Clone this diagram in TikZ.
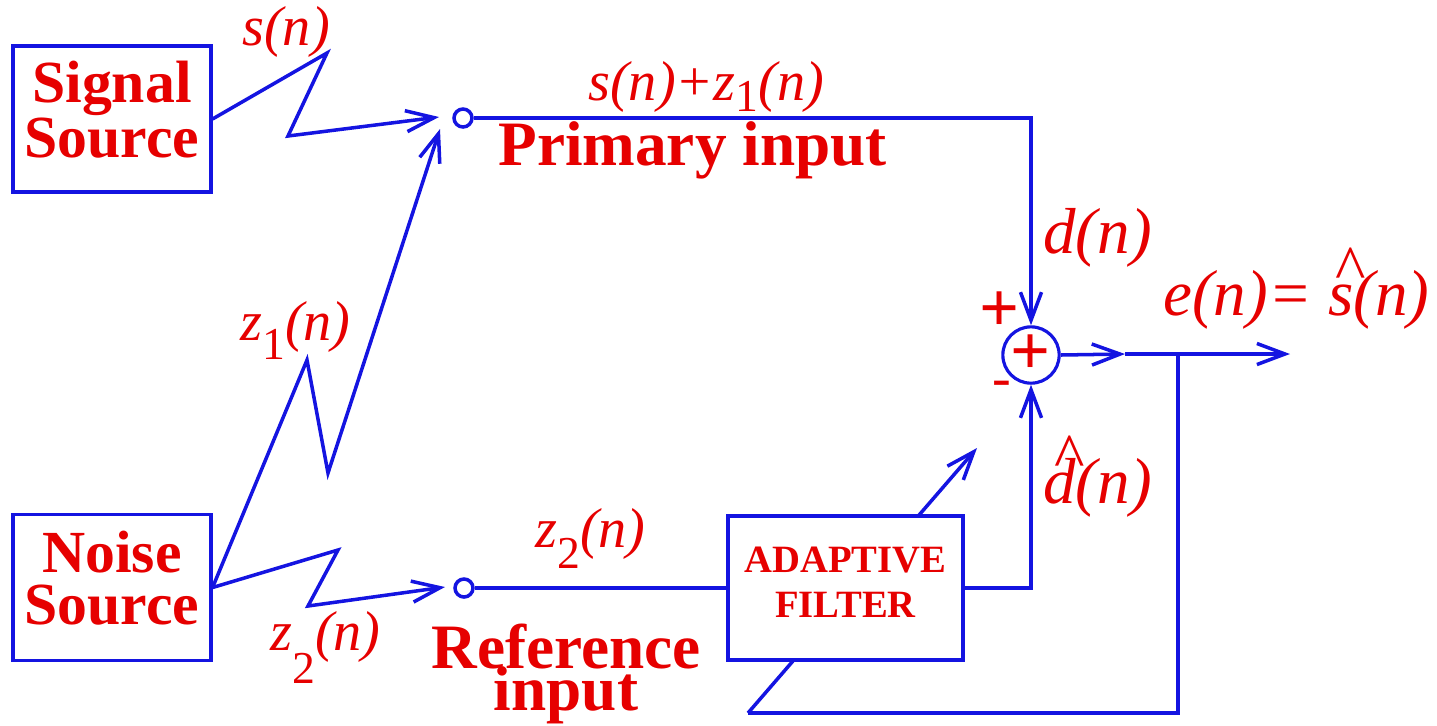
\documentclass[tikz,border=0pt]{standalone}
\usepackage{fontspec}
\setmainfont{Liberation Serif}
\usetikzlibrary{arrows.meta,positioning}
\definecolor{wireblue}{RGB}{20,20,225}
\definecolor{labelred}{RGB}{230,0,0}
\newcommand\hatof[1]{\ooalign{#1\cr\hidewidth\kern0.3em\raisebox{0.38em}{\upshape\char"5E}\hidewidth\cr}}
\newcommand\zsig[2][0.38em]{z\raisebox{-#1}{\upshape\fontsize{26}{26}\selectfont #2}(n)}
\tikzset{
  wire/.style={draw=wireblue, line width=2pt},
  arr/.style={wire, -{Straight Barb[length=16pt,width=12pt]}},
  srcbox/.style={draw=wireblue, line width=1.8pt, fill=white, align=center,
    minimum width=3.96cm, minimum height=2.92cm, text=labelred, text depth=11pt,
    font=\fontsize{34}{30}\selectfont\bfseries},
  filterbox/.style={srcbox, minimum width=4.7cm, minimum height=2.88cm, text depth=7pt,
    font=\fontsize{22}{25.6}\selectfont\bfseries},
  tapnode/.style={draw=wireblue, line width=2pt, circle, inner sep=0pt, minimum size=0.36cm},
  sumnode/.style={draw=wireblue, line width=1.8pt, circle, inner sep=0pt, minimum size=1.12cm,
    text=labelred, font=\fontsize{40}{40}\selectfont\bfseries},
  lbl/.style={text=labelred, inner sep=0pt, font=\fontsize{32}{36}\selectfont\itshape},
  biglbl/.style={lbl, font=\fontsize{37}{40}\selectfont\itshape},
  blbl/.style={text=labelred, inner sep=0pt, font=\fontsize{36}{30}\selectfont\bfseries},
  sgn/.style={text=labelred, inner sep=0pt, font=\fontsize{40}{40}\selectfont\bfseries}
}
\begin{document}
\begin{tikzpicture}[x=0.02cm, y=-0.02cm]
  \useasboundingbox (0,0) rectangle (1437,725);
  % sources, taps and summer
  \node[srcbox] (sig) at (112,119) {Signal\\Source};
  \node[srcbox] (noise) at (112,587.5) {Noise\\Source};
  \node[tapnode] (pc) at (463,118) {};
  \node[tapnode] (rc) at (464,588) {};
  \node[sumnode] (sum) at (1031,355) {+};
  \coordinate (pin1) at (439,117);
  \coordinate (pin2) at (440,129);
  \coordinate (pin3) at (445,587);
  \coordinate (mid) at (1125,354);
  \coordinate (out) at (1290,354);
  \coordinate (tap) at (1178,354);
  \coordinate (fb) at (748,713);
  \coordinate (fbtip) at (977,448);
  % channels
  \draw[arr] (sig.east) -- (327,53) -- (288,136) -- (pin1);
  \draw[arr] (noise.east) -- (307,360) -- (328,473) -- (pin2);
  \draw[arr] (noise.east) -- (338,550) -- (308,606) -- (pin3);
  \draw[arr] (pc.east) -| (sum.north);
  \draw[arr] (sum.east) -- (mid);
  \draw[arr] (mid) -- (out);
  \draw[wire] (tap) |- (fb);
  \draw[arr] (fb) -- (fbtip);
  \node[filterbox] (filt) at (845.5,588) {ADAPTIVE\\FILTER};
  \draw[wire] (rc.east) -- (filt.west);
  \draw[arr] (filt.east) -| (sum.south);
  % labels
  \node[lbl, anchor=base west] (lsn) at (242,45) {s(n)};
  \node[lbl, anchor=base west] (lsz) at (588,100) {s(n)+\zsig[0.2em]{1}};
  \node[blbl, anchor=base west] (lpri) at (498,165) {Primary input};
  \node[biglbl, anchor=base west] (ldn) at (1043,253) {d(n)};
  \node[biglbl, anchor=base west] (len) at (1163,315) {e(n)= \hatof{s}(n)};
  \node[biglbl, anchor=base west] (ldh) at (1043,503) {\hatof{d}(n)};
  \node[lbl, anchor=base west] (lz1) at (240,340) {\zsig[0.35em]{1}};
  \node[lbl, anchor=base west] (lz2) at (270,650) {\zsig[0.6em]{2}};
  \node[lbl, anchor=base west] (lz2r) at (535,547) {\zsig{2}};
  \node[blbl, anchor=base] (lref) at (566,668) {Reference};
  \node[blbl, anchor=base] (linp) at (566,710) {input};
  \node[sgn] (lplus) at (1000,312) {+};
  \node[sgn, font=\fontsize{32}{32}\selectfont] (lminus) at (1002,389) {-};
\end{tikzpicture}
\end{document}
